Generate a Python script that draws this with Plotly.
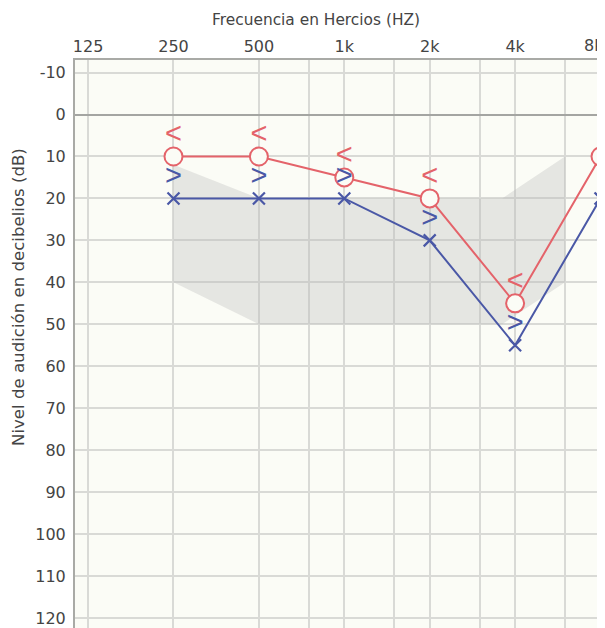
import math
import plotly.graph_objects as go

# ---- data ----
freqs = [250, 500, 1000, 2000, 4000, 8000]
right_air = [10, 10, 15, 20, 45, 10]      # red circles
left_air = [20, 20, 20, 30, 55, 20]       # blue crosses
bone_freqs = [250, 500, 1000, 2000, 4000]
right_bone = [5, 5, 10, 15, 40]           # red "<"
left_bone = [15, 15, 15, 25, 50]          # blue ">"

band_freqs = [250, 500, 3600, 6000, 6000, 3600, 500, 250, 250]
band_db = [12, 20, 20, 10, 40, 50, 50, 40, 12]

grid_freqs = [125, 250, 500, 750, 1000, 1500, 2000, 3000, 4000, 6000, 8000]
grid_labels = ["125", "250", "500", "", "1k", "", "2k", "", "4k", "", ""]
edge_label = "8k"   # last label, drawn against the right edge (it is cropped in the original)
db_ticks = list(range(-10, 121, 10))
db_labels = [str(v) for v in db_ticks]   # plain hyphen for "-10"

RED = "#e4636a"
BLUE = "#4a58a6"
FONT = "DejaVu Sans"
SYMFONT = "Liberation Sans"

# page has an 8px body margin; figure sized so the plot reaches the window edge
W, H = 597, 620
ML, MT = 67, 52

fig = go.Figure()

fig.add_trace(go.Scatter(
    x=band_freqs, y=band_db, mode="lines", fill="toself",
    fillcolor="rgba(185,185,185,0.33)", line=dict(width=0),
    hoverinfo="skip", showlegend=False))

fig.add_trace(go.Scatter(
    x=freqs, y=left_air, mode="lines+markers",
    line=dict(color=BLUE, width=2),
    marker=dict(symbol="x-thin-open", size=12, line=dict(color=BLUE, width=2.2)),
    showlegend=False))

fig.add_trace(go.Scatter(
    x=freqs, y=right_air, mode="lines+markers",
    line=dict(color=RED, width=2),
    marker=dict(symbol="circle", size=18, color="#fbfcf6",
                line=dict(color=RED, width=2)),
    showlegend=False))

fig.add_trace(go.Scatter(
    x=bone_freqs, y=right_bone, mode="text", text=["<"] * len(bone_freqs),
    textposition="middle center",
    textfont=dict(family=SYMFONT, size=29, color=RED), showlegend=False))

fig.add_trace(go.Scatter(
    x=bone_freqs, y=left_bone, mode="text", text=[">"] * len(bone_freqs),
    textposition="middle center",
    textfont=dict(family=SYMFONT, size=29, color=BLUE), showlegend=False))

x_lo = math.log10(112.4)
x_hi = math.log10(8297)

fig.update_xaxes(
    type="log", range=[x_lo, x_hi], side="top",
    tickmode="array", tickvals=grid_freqs, ticktext=grid_labels,
    showgrid=True, gridcolor="#d9dad6", gridwidth=1.5,
    showline=True, linecolor="#a9aaa6", linewidth=2, mirror=False,
    ticks="", tickfont=dict(family=FONT, size=16, color="#444"),
    zeroline=False, fixedrange=True)

fig.update_yaxes(
    range=[122.4, -13], tickmode="array", tickvals=db_ticks, ticktext=db_labels,
    showgrid=True, gridcolor="#d9dad6", gridwidth=1.5,
    zeroline=True, zerolinecolor="#a4a5a2", zerolinewidth=2,
    showline=True, linecolor="#a9aaa6", linewidth=2, mirror=False,
    ticks="", ticklabelstandoff=4,
    tickfont=dict(family=FONT, size=16, color="#444"), fixedrange=True)

pw = W - ML
ph = H - MT
OFF = 8
fig.add_annotation(
    text="Frecuencia en Hercios (HZ)", xref="paper", yref="paper",
    x=(316 - OFF - ML) / pw, y=(H - (20 - OFF)) / ph, showarrow=False,
    xanchor="center", yanchor="middle",
    font=dict(family=FONT, size=15.4, color="#444"))
fig.add_annotation(
    text="Nivel de audición en decibelios (dB)", xref="paper", yref="paper",
    x=(18 - OFF - ML) / pw, y=(H - (297 - OFF)) / ph, showarrow=False,
    textangle=-90, xanchor="center", yanchor="middle",
    font=dict(family=FONT, size=16.6, color="#444"))
fig.add_annotation(
    text=edge_label, xref="paper", yref="paper",
    x=1, y=(H - (46 - OFF)) / ph, showarrow=False,
    xanchor="right", yanchor="middle", borderpad=0,
    font=dict(family=FONT, size=16, color="#444"))

fig.update_layout(
    width=W, height=H,
    margin=dict(l=ML, r=0, t=MT, b=0, pad=0),
    paper_bgcolor="white", plot_bgcolor="#fbfcf6",
    showlegend=False)

fig.write_html("out.html")
